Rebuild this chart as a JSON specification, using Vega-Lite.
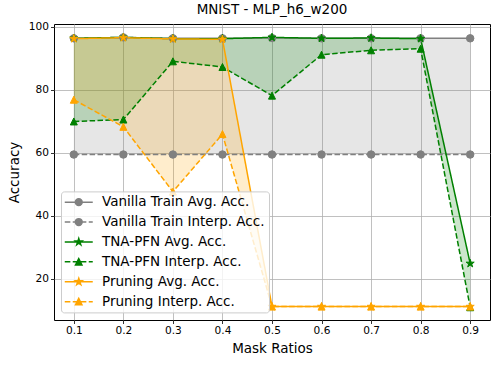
{
  "$schema": "https://vega.github.io/schema/vega-lite/v6.json",
  "autosize": "none",
  "width": 436,
  "height": 296,
  "padding": {"left": 54, "top": 24, "right": 8, "bottom": 45},
  "title": {"text": "MNIST - MLP_h6_w200", "fontSize": 13.5, "fontWeight": "normal", "color": "black", "offset": 5, "font": "DejaVu Sans"},
  "config": {
    "font": "DejaVu Sans",
    "view": {"stroke": "black", "strokeWidth": 1},
    "axis": {"domain": false, "grid": true, "gridColor": "#b0b0b0", "gridWidth": 0.8, "tickColor": "black", "tickSize": 3.5, "tickWidth": 0.8, "labelColor": "black", "labelFont": "DejaVu Sans", "titleFont": "DejaVu Sans", "labelFontSize": 10.6, "labelPadding": 2, "titleColor": "black", "titleFontSize": 13.5, "titleFontWeight": "normal"},
    "axisX": {"titlePadding": 5, "labelFlush": false},
    "axisY": {"titlePadding": 7},
    "legend": {"orient": "none", "legendX": 7, "legendY": 167.4, "padding": 4, "symbolSize": 64, "symbolStrokeWidth": 1.5, "symbolOffset": 7, "labelOffset": 16.5, "labelFont": "DejaVu Sans", "labelFontSize": 13.5, "labelColor": "black", "labelLimit": 400, "rowPadding": 4.9, "fillColor": "rgba(255,255,255,0.8)", "strokeColor": "#cccccc", "cornerRadius": 3}
  },
  "resolve": {"scale": {"color": "independent", "stroke": "independent", "shape": "independent"}},
  "data": {"values": [
    {"x": 0.1, "method": "Vanilla", "kind": "avg", "series": "Vanilla Train Avg. Acc.", "acc": 96.3},
    {"x": 0.2, "method": "Vanilla", "kind": "avg", "series": "Vanilla Train Avg. Acc.", "acc": 96.6},
    {"x": 0.3, "method": "Vanilla", "kind": "avg", "series": "Vanilla Train Avg. Acc.", "acc": 96.3},
    {"x": 0.4, "method": "Vanilla", "kind": "avg", "series": "Vanilla Train Avg. Acc.", "acc": 96.3},
    {"x": 0.5, "method": "Vanilla", "kind": "avg", "series": "Vanilla Train Avg. Acc.", "acc": 96.4},
    {"x": 0.6, "method": "Vanilla", "kind": "avg", "series": "Vanilla Train Avg. Acc.", "acc": 96.3},
    {"x": 0.7, "method": "Vanilla", "kind": "avg", "series": "Vanilla Train Avg. Acc.", "acc": 96.3},
    {"x": 0.8, "method": "Vanilla", "kind": "avg", "series": "Vanilla Train Avg. Acc.", "acc": 96.3},
    {"x": 0.9, "method": "Vanilla", "kind": "avg", "series": "Vanilla Train Avg. Acc.", "acc": 96.3},
    {"x": 0.1, "method": "Vanilla", "kind": "interp", "series": "Vanilla Train Interp. Acc.", "acc": 59.4},
    {"x": 0.2, "method": "Vanilla", "kind": "interp", "series": "Vanilla Train Interp. Acc.", "acc": 59.4},
    {"x": 0.3, "method": "Vanilla", "kind": "interp", "series": "Vanilla Train Interp. Acc.", "acc": 59.4},
    {"x": 0.4, "method": "Vanilla", "kind": "interp", "series": "Vanilla Train Interp. Acc.", "acc": 59.4},
    {"x": 0.5, "method": "Vanilla", "kind": "interp", "series": "Vanilla Train Interp. Acc.", "acc": 59.4},
    {"x": 0.6, "method": "Vanilla", "kind": "interp", "series": "Vanilla Train Interp. Acc.", "acc": 59.4},
    {"x": 0.7, "method": "Vanilla", "kind": "interp", "series": "Vanilla Train Interp. Acc.", "acc": 59.4},
    {"x": 0.8, "method": "Vanilla", "kind": "interp", "series": "Vanilla Train Interp. Acc.", "acc": 59.4},
    {"x": 0.9, "method": "Vanilla", "kind": "interp", "series": "Vanilla Train Interp. Acc.", "acc": 59.4},
    {"x": 0.1, "method": "TNA", "kind": "avg", "series": "TNA-PFN Avg. Acc.", "acc": 96.3},
    {"x": 0.2, "method": "TNA", "kind": "avg", "series": "TNA-PFN Avg. Acc.", "acc": 96.6},
    {"x": 0.3, "method": "TNA", "kind": "avg", "series": "TNA-PFN Avg. Acc.", "acc": 96.2},
    {"x": 0.4, "method": "TNA", "kind": "avg", "series": "TNA-PFN Avg. Acc.", "acc": 96.2},
    {"x": 0.5, "method": "TNA", "kind": "avg", "series": "TNA-PFN Avg. Acc.", "acc": 96.6},
    {"x": 0.6, "method": "TNA", "kind": "avg", "series": "TNA-PFN Avg. Acc.", "acc": 96.3},
    {"x": 0.7, "method": "TNA", "kind": "avg", "series": "TNA-PFN Avg. Acc.", "acc": 96.4},
    {"x": 0.8, "method": "TNA", "kind": "avg", "series": "TNA-PFN Avg. Acc.", "acc": 96.2},
    {"x": 0.9, "method": "TNA", "kind": "avg", "series": "TNA-PFN Avg. Acc.", "acc": 24.8},
    {"x": 0.1, "method": "TNA", "kind": "interp", "series": "TNA-PFN Interp. Acc.", "acc": 69.9},
    {"x": 0.2, "method": "TNA", "kind": "interp", "series": "TNA-PFN Interp. Acc.", "acc": 70.5},
    {"x": 0.3, "method": "TNA", "kind": "interp", "series": "TNA-PFN Interp. Acc.", "acc": 89.0},
    {"x": 0.4, "method": "TNA", "kind": "interp", "series": "TNA-PFN Interp. Acc.", "acc": 87.2},
    {"x": 0.5, "method": "TNA", "kind": "interp", "series": "TNA-PFN Interp. Acc.", "acc": 78.1},
    {"x": 0.6, "method": "TNA", "kind": "interp", "series": "TNA-PFN Interp. Acc.", "acc": 91.1},
    {"x": 0.7, "method": "TNA", "kind": "interp", "series": "TNA-PFN Interp. Acc.", "acc": 92.5},
    {"x": 0.8, "method": "TNA", "kind": "interp", "series": "TNA-PFN Interp. Acc.", "acc": 93.0},
    {"x": 0.9, "method": "TNA", "kind": "interp", "series": "TNA-PFN Interp. Acc.", "acc": 10.9},
    {"x": 0.1, "method": "Pruning", "kind": "avg", "series": "Pruning Avg. Acc.", "acc": 96.2},
    {"x": 0.2, "method": "Pruning", "kind": "avg", "series": "Pruning Avg. Acc.", "acc": 96.5},
    {"x": 0.3, "method": "Pruning", "kind": "avg", "series": "Pruning Avg. Acc.", "acc": 96.1},
    {"x": 0.4, "method": "Pruning", "kind": "avg", "series": "Pruning Avg. Acc.", "acc": 96.0},
    {"x": 0.5, "method": "Pruning", "kind": "avg", "series": "Pruning Avg. Acc.", "acc": 11.1},
    {"x": 0.6, "method": "Pruning", "kind": "avg", "series": "Pruning Avg. Acc.", "acc": 11.1},
    {"x": 0.7, "method": "Pruning", "kind": "avg", "series": "Pruning Avg. Acc.", "acc": 11.1},
    {"x": 0.8, "method": "Pruning", "kind": "avg", "series": "Pruning Avg. Acc.", "acc": 11.1},
    {"x": 0.9, "method": "Pruning", "kind": "avg", "series": "Pruning Avg. Acc.", "acc": 11.1},
    {"x": 0.1, "method": "Pruning", "kind": "interp", "series": "Pruning Interp. Acc.", "acc": 76.8},
    {"x": 0.2, "method": "Pruning", "kind": "interp", "series": "Pruning Interp. Acc.", "acc": 68.2},
    {"x": 0.3, "method": "Pruning", "kind": "interp", "series": "Pruning Interp. Acc.", "acc": 47.6},
    {"x": 0.4, "method": "Pruning", "kind": "interp", "series": "Pruning Interp. Acc.", "acc": 65.9},
    {"x": 0.5, "method": "Pruning", "kind": "interp", "series": "Pruning Interp. Acc.", "acc": 11.1},
    {"x": 0.6, "method": "Pruning", "kind": "interp", "series": "Pruning Interp. Acc.", "acc": 11.1},
    {"x": 0.7, "method": "Pruning", "kind": "interp", "series": "Pruning Interp. Acc.", "acc": 11.1},
    {"x": 0.8, "method": "Pruning", "kind": "interp", "series": "Pruning Interp. Acc.", "acc": 11.1},
    {"x": 0.9, "method": "Pruning", "kind": "interp", "series": "Pruning Interp. Acc.", "acc": 11.1}
  ]},
  "encoding": {
    "x": {"field": "x", "type": "quantitative", "title": "Mask Ratios", "scale": {"domain": [0.06, 0.94], "nice": false, "zero": false}, "axis": {"values": [0.1, 0.2, 0.3, 0.4, 0.5, 0.6, 0.7, 0.8, 0.9], "format": ".1f"}}
  },
  "layer": [
    {
      "transform": [{"filter": "datum.method == 'Vanilla'"}, {"pivot": "kind", "value": "acc", "groupby": ["x"]}],
      "mark": {"type": "area", "color": "#808080", "opacity": 0.2},
      "encoding": {
        "y": {"field": "avg", "type": "quantitative", "title": "Accuracy", "scale": {"domain": [6.85, 100.85], "nice": false, "zero": false}, "axis": {"values": [20, 40, 60, 80, 100]}},
        "y2": {"field": "interp"}
      }
    },
    {
      "transform": [{"filter": "datum.method == 'TNA'"}, {"pivot": "kind", "value": "acc", "groupby": ["x"]}],
      "mark": {"type": "area", "color": "#008000", "opacity": 0.2},
      "encoding": {
        "y": {"field": "avg", "type": "quantitative", "title": "Accuracy"},
        "y2": {"field": "interp"}
      }
    },
    {
      "transform": [{"filter": "datum.method == 'Pruning'"}, {"pivot": "kind", "value": "acc", "groupby": ["x"]}],
      "mark": {"type": "area", "color": "#ffa500", "opacity": 0.2},
      "encoding": {
        "y": {"field": "avg", "type": "quantitative", "title": "Accuracy"},
        "y2": {"field": "interp"}
      }
    },
    {
      "mark": {"type": "line", "strokeWidth": 1.5},
      "encoding": {
        "y": {"field": "acc", "type": "quantitative", "title": "Accuracy"},
        "color": {"field": "series", "type": "nominal", "scale": {"domain": ["Vanilla Train Avg. Acc.", "Vanilla Train Interp. Acc.", "TNA-PFN Avg. Acc.", "TNA-PFN Interp. Acc.", "Pruning Avg. Acc.", "Pruning Interp. Acc."], "range": ["#808080", "#808080", "#008000", "#008000", "#ffa500", "#ffa500"]}, "legend": null},
        "strokeDash": {"field": "kind", "type": "nominal", "scale": {"domain": ["avg", "interp"], "range": [[1, 0], [5.5, 2.4]]}, "legend": null}
      }
    },
    {
      "transform": [{"filter": "datum.method == 'Vanilla'"}],
      "mark": {"type": "point", "filled": true, "opacity": 1, "size": 56, "strokeWidth": 1, "shape": "circle", "color": "#808080", "stroke": "#808080"},
      "encoding": {
        "y": {"field": "acc", "type": "quantitative", "title": "Accuracy"}
      }
    },
    {
      "transform": [{"filter": "datum.method != 'Vanilla' && datum.kind == 'avg'"}],
      "mark": {"type": "point", "filled": true, "opacity": 1, "size": 72, "strokeWidth": 1, "shape": "M0,-1L0.225,-0.309L0.951,-0.309L0.363,0.118L0.588,0.809L0,0.382L-0.588,0.809L-0.363,0.118L-0.951,-0.309L-0.225,-0.309Z"},
      "encoding": {
        "y": {"field": "acc", "type": "quantitative", "title": "Accuracy"},
        "color": {"field": "method", "type": "nominal", "scale": {"domain": ["TNA", "Pruning"], "range": ["#008000", "#ffa500"]}, "legend": null},
        "stroke": {"field": "method", "type": "nominal", "scale": {"domain": ["TNA", "Pruning"], "range": ["#008000", "#ffa500"]}, "legend": null}
      }
    },
    {
      "transform": [{"filter": "datum.method != 'Vanilla' && datum.kind == 'interp'"}],
      "mark": {"type": "point", "filled": true, "opacity": 1, "size": 49, "strokeWidth": 1, "shape": "M0,-1L-1,1L1,1Z"},
      "encoding": {
        "y": {"field": "acc", "type": "quantitative", "title": "Accuracy"},
        "color": {"field": "method", "type": "nominal", "scale": {"domain": ["TNA", "Pruning"], "range": ["#008000", "#ffa500"]}, "legend": null},
        "stroke": {"field": "method", "type": "nominal", "scale": {"domain": ["TNA", "Pruning"], "range": ["#008000", "#ffa500"]}, "legend": null}
      }
    },
    {
      "transform": [{"filter": "datum.x > 5"}],
      "mark": {"type": "point", "filled": true, "opacity": 1, "size": 64, "strokeWidth": 1.5},
      "encoding": {
        "y": {"field": "acc", "type": "quantitative", "title": "Accuracy"},
        "color": {"field": "series", "type": "nominal", "scale": {"domain": ["Vanilla Train Avg. Acc.", "Vanilla Train Interp. Acc.", "TNA-PFN Avg. Acc.", "TNA-PFN Interp. Acc.", "Pruning Avg. Acc.", "Pruning Interp. Acc."], "range": ["#808080", "#808080", "#008000", "#008000", "#ffa500", "#ffa500"]}, "legend": {"title": null, "labelFontSize": 13.5, "labelFont": "DejaVu Sans"}},
        "stroke": {"field": "series", "type": "nominal", "scale": {"domain": ["Vanilla Train Avg. Acc.", "Vanilla Train Interp. Acc.", "TNA-PFN Avg. Acc.", "TNA-PFN Interp. Acc.", "Pruning Avg. Acc.", "Pruning Interp. Acc."], "range": ["#808080", "#808080", "#008000", "#008000", "#ffa500", "#ffa500"]}, "legend": {"title": null, "labelFontSize": 13.5, "labelFont": "DejaVu Sans"}},
        "shape": {"field": "series", "type": "nominal", "scale": {"domain": ["Vanilla Train Avg. Acc.", "Vanilla Train Interp. Acc.", "TNA-PFN Avg. Acc.", "TNA-PFN Interp. Acc.", "Pruning Avg. Acc.", "Pruning Interp. Acc."], "range": [
          "M-3.5,0H3.5M0.85,0A0.85,0.85,0,1,1,-0.85,0A0.85,0.85,0,1,1,0.85,0Z",
          "M-3.5,0H-2.1M-1.5,0H-0.1M0.5,0H1.9M2.5,0H3.5M0.85,0A0.85,0.85,0,1,1,-0.85,0A0.85,0.85,0,1,1,0.85,0Z",
          "M-3.5,0H3.5M0,-0.85L0.19,-0.263L0.808,-0.263L0.309,0.1L0.5,0.688L0,0.325L-0.5,0.688L-0.309,0.1L-0.808,-0.263L-0.19,-0.263Z",
          "M-3.5,0H-2.1M-1.5,0H-0.1M0.5,0H1.9M2.5,0H3.5M0,-0.8L-0.8,0.8L0.8,0.8Z",
          "M-3.5,0H3.5M0,-0.85L0.19,-0.263L0.808,-0.263L0.309,0.1L0.5,0.688L0,0.325L-0.5,0.688L-0.309,0.1L-0.808,-0.263L-0.19,-0.263Z",
          "M-3.5,0H-2.1M-1.5,0H-0.1M0.5,0H1.9M2.5,0H3.5M0,-0.8L-0.8,0.8L0.8,0.8Z"
        ]}, "legend": {"title": null, "labelFontSize": 13.5, "labelFont": "DejaVu Sans"}}
      }
    }
  ]
}
